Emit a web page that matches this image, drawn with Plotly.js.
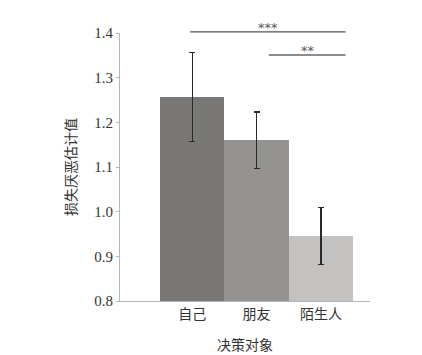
<!DOCTYPE html>
<html><head><meta charset="utf-8">
<script src="https://cdn.plot.ly/plotly-3.0.1.min.js"></script>
<style>body{margin:0;background:#fff}</style>
</head><body><div id="chart" style="width:422px;height:355px"></div>
<script>
const categories = ['自己', '朋友', '陌生人'];
const values = [1.257, 1.160, 0.946];
const errors = [0.100, 0.063, 0.064];
const barColors = ['#7a7877', '#959392', '#c3c2c1'];
const yTicks = [0.8, 0.9, 1.0, 1.1, 1.2, 1.3, 1.4];
const yTickText = ['0.8', '0.9', '1.0', '1.1', '1.2', '1.3', '1.4'];
const sigPairs = [[0, 2, '***'], [1, 2, '**']];

const serif = '"Liberation Serif", "Times New Roman", serif';
const cjk = '"Noto Sans CJK SC", sans-serif';

const trace = {
  type: 'bar', x: categories, y: values,
  marker: {color: barColors, line: {width: 0}},
  error_y: {type: 'data', array: errors, visible: true, color: '#2a2a2a', thickness: 1.3, width: 3},
  hoverinfo: 'none'
};

const shapes = [
  {type: 'line', xref: 'x', yref: 'paper', x0: -0.03, x1: 2.38, y0: 1.004, y1: 1.004, line: {color: '#555', width: 1.3}},
  {type: 'line', xref: 'x', yref: 'paper', x0: 1.19, x1: 2.38, y0: 0.918, y1: 0.918, line: {color: '#666', width: 1.3}}
];
const annotations = [
  {xref: 'x', yref: 'paper', x: 1.18, y: 1.004, text: sigPairs[0][2], showarrow: false, yanchor: 'bottom', font: {family: 'DejaVu Sans, sans-serif', size: 13, color: '#555'}, yshift: -5},
  {xref: 'x', yref: 'paper', x: 1.8, y: 0.918, text: sigPairs[1][2], showarrow: false, yanchor: 'bottom', font: {family: 'DejaVu Sans, sans-serif', size: 13, color: '#555'}, yshift: -5}
];

const layout = {
  width: 422, height: 355,
  margin: {l: 120, r: 52, t: 33, b: 54},
  paper_bgcolor: '#fff', plot_bgcolor: '#fff',
  bargap: 0, showlegend: false,
  xaxis: {
    range: [-1.12, 2.76], showgrid: false, zeroline: false,
    showline: true, linecolor: '#b5b5b5', linewidth: 1, ticks: '',
    tickfont: {family: cjk, size: 14, color: '#333'},
    title: {text: '决策对象', font: {family: cjk, size: 14, color: '#333'}, standoff: 18}
  },
  yaxis: {
    range: [0.8, 1.4], tickvals: yTicks, ticktext: yTickText,
    showgrid: false, zeroline: false, showline: true, linecolor: '#b5b5b5', linewidth: 1,
    ticks: 'outside', ticklen: 3, tickcolor: '#b5b5b5',
    tickfont: {family: serif, size: 15, color: '#333'},
    title: {text: '损失厌恶估计值', font: {family: cjk, size: 14, color: '#333'}, standoff: 14}
  },
  shapes: shapes, annotations: annotations
};
Plotly.newPlot('chart', [trace], layout, {displayModeBar: false, staticPlot: true});
</script></body></html>
